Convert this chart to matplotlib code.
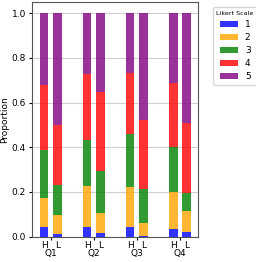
import numpy as np
import matplotlib.pyplot as plt

questions = ['Q1', 'Q2', 'Q3', 'Q4']
groups = ['H', 'L']
levels = ['1', '2', '3', '4', '5']
colors = ['blue', 'orange', 'green', 'red', 'purple']

# proportion of each Likert level, per question, for H and L groups
p1_h = [0.045, 0.045, 0.045, 0.036]
p1_l = [0.011, 0.016, 0.004, 0.022]
p2_h = [0.129, 0.183, 0.178, 0.164]
p2_l = [0.086, 0.088, 0.059, 0.093]
p3_h = [0.214, 0.205, 0.235, 0.199]
p3_l = [0.134, 0.189, 0.149, 0.081]
p4_h = [0.291, 0.295, 0.273, 0.290]
p4_l = [0.268, 0.354, 0.309, 0.312]
p5_h = [0.321, 0.272, 0.269, 0.311]
p5_l = [0.501, 0.353, 0.479, 0.492]

high = np.array([p1_h, p2_h, p3_h, p4_h, p5_h])
low = np.array([p1_l, p2_l, p3_l, p4_l, p5_l])

fig = plt.figure(figsize=(2.56, 2.62), dpi=100)
ax = fig.add_axes([0.126, 0.097, 0.649, 0.895])

x = np.arange(len(questions))
w = 0.2
off = 0.155

bottom_h = np.zeros(len(questions))
bottom_l = np.zeros(len(questions))
for i in range(len(levels)):
    ax.bar(x - off, high[i], w, bottom=bottom_h, color=colors[i], alpha=0.8, label=levels[i], zorder=3)
    ax.bar(x + off, low[i], w, bottom=bottom_l, color=colors[i], alpha=0.8, zorder=3)
    bottom_h += high[i]
    bottom_l += low[i]

ax.set_ylim(0, 1.05)
ax.set_yticks(np.arange(0, 1.01, 0.2))
ax.grid(axis='y', color='#d0d0d0', linewidth=0.8, zorder=0)
ax.set_ylabel('Proportion', fontsize=6.5, labelpad=2)
ax.tick_params(axis='y', labelsize=6.5, length=2.5, pad=2)

# question labels at group centre, H/L labels under each bar
ax.set_xticks(x)
ax.set_xticklabels(questions, fontsize=6.5)
ax.set_xticks(np.concatenate([x - off, x + off]), minor=True)
ax.set_xticklabels(['H'] * 4 + ['L'] * 4, minor=True, fontsize=6.5)
ax.tick_params(axis='x', which='major', length=2.5, pad=6.4)
ax.tick_params(axis='x', which='minor', length=0, pad=3.4)

for s in ax.spines.values():
    s.set_color('#555555')

leg = ax.legend(title='Likert Scale', loc='upper left', bbox_to_anchor=(1.07, 0.99),
                fontsize=6.5, title_fontsize=4.6, handlelength=2.0, handletextpad=0.8,
                borderaxespad=0.3, labelspacing=0.45)

fig.savefig('out.png', dpi=100)
